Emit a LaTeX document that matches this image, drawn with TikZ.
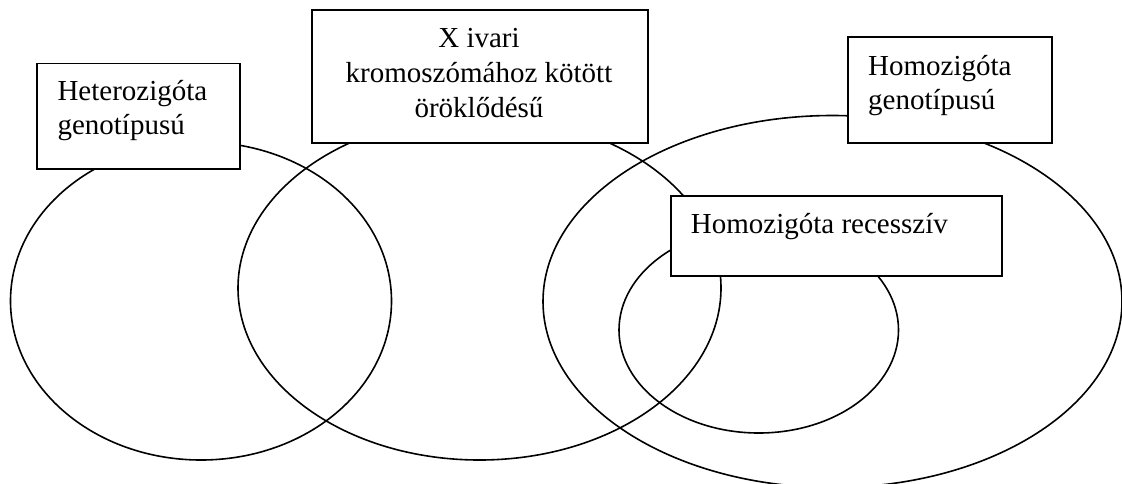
\documentclass[tikz,border=0pt]{standalone}
\usepackage{fontspec}
\setmainfont{Liberation Serif}
\begin{document}
\begin{tikzpicture}[x=1pt,y=-1pt,
  venn/.style={line width=1.6pt},
  box/.style={draw, line width=1.6pt, fill=white, inner sep=0pt, anchor=north west},
  lbl/.style={inner sep=0pt, font=\fontsize{29}{34}\selectfont}]
\useasboundingbox (0,0) rectangle (1122,483);
\fill[white] (0,0) rectangle (1122,483);
% sets
\draw[venn] (201,301) ellipse [x radius=190.5pt, y radius=159pt];
\draw[venn] (479.5,288) ellipse [x radius=241.5pt, y radius=172pt];
\draw[venn] (832.5,301.5) ellipse [x radius=289.5pt, y radius=186pt];
\draw[venn] (758.75,330) ellipse [x radius=139.75pt, y radius=103pt];
% label boxes
\node[box, minimum width=203pt, minimum height=105.6pt] (het) at (36,62.7) {};
\node[lbl, anchor=base west] (het1) at (57.3,100.7) {Heterozigóta};
\node[lbl, anchor=base west] (het2) at (57.3,134) {genotípusú};
\node[box, minimum width=336pt, minimum height=133pt] (xbox) at (311,9) {};
\node[lbl, anchor=base] (x1) at (479,47.3) {X ivari};
\node[lbl, anchor=base] (x2) at (479,82.3) {kromoszómához kötött};
\node[lbl, anchor=base] (x3) at (479,117.3) {öröklődésű};
\node[box, minimum width=204pt, minimum height=106pt] (homo) at (847,36) {};
\node[lbl, anchor=base west] (homo1) at (868,75) {Homozigóta};
\node[lbl, anchor=base west] (homo2) at (868,109.3) {genotípusú};
\node[box, minimum width=331pt, minimum height=80pt] (rec) at (670,195) {};
\node[lbl, anchor=base west] (rec1) at (690.7,233) {Homozigóta recesszív};
\end{tikzpicture}
\end{document}
